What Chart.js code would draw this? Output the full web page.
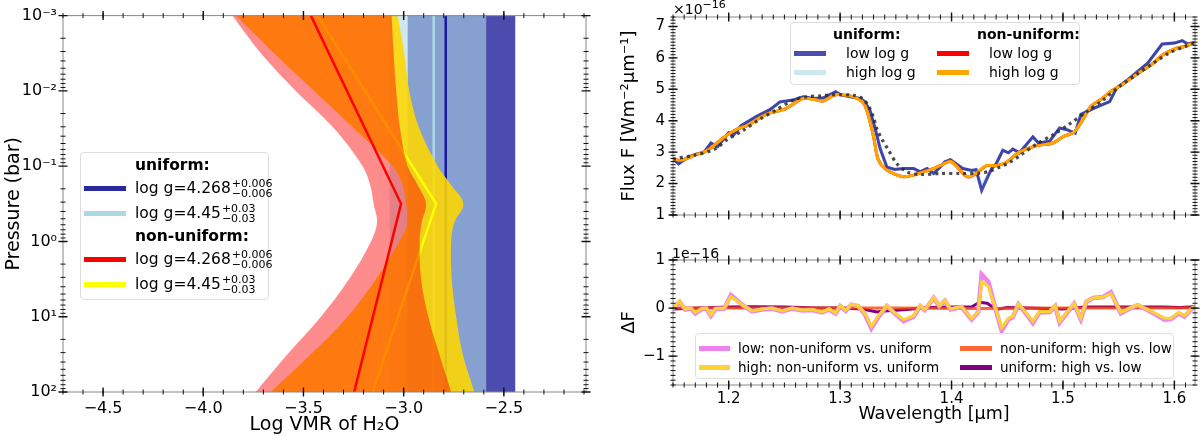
<!DOCTYPE html>
<html lang="en">
<head>
<meta charset="UTF-8" />
<title>H2O profiles and spectra</title>
<script src="https://cdn.jsdelivr.net/npm/chart.js@4.4.1/dist/chart.umd.min.js"></script>
<style>
  body { margin: 0; background: #fff; font-family: 'DejaVu Sans', sans-serif; }
  #wrap { position: relative; width: 1200px; height: 436px; overflow: hidden; }
  canvas { position: absolute; }
  .box { position: absolute; background: rgba(255,255,255,0.85); border: 1px solid #ddd; border-radius: 4px; }
  .row { position: absolute; left: 0; right: 0; height: 24px; line-height: 24px; white-space: nowrap; }
  .sw { position: absolute; height: 5px; }
  .txt { position: absolute; top: 0; color: #000; }
  .hd { font-weight: bold; }
  .ss { display: inline-block; vertical-align: middle; font-size: 11px; line-height: 10px; margin-left: 1px; }
  .ss span { display: block; }
  .off { position: absolute; font-size: 14px; color: #000; }
</style>
</head>
<body>
<div id="wrap">
  <canvas id="profile" width="600" height="436" style="left:0;top:0"></canvas>
  <canvas id="flux" width="600" height="232" style="left:600px;top:0"></canvas>
  <canvas id="resid" width="600" height="204" style="left:600px;top:232px"></canvas>

  <div class="box" style="left:80px;top:152px;width:187px;height:146px;font-size:15.5px">
    <div class="row" style="top:0"><span class="txt hd" style="left:54px">uniform:</span></div>
    <div class="row" style="top:23px"><span class="sw" style="left:3px;top:10px;width:42px;background:rgb(40,40,160)"></span><span class="txt" style="left:54px">log g=4.268<span class="ss"><span>+0.006</span><span>−0.006</span></span></span></div>
    <div class="row" style="top:48px"><span class="sw" style="left:3px;top:10px;width:42px;background:lightblue"></span><span class="txt" style="left:54px">log g=4.45<span class="ss"><span>+0.03</span><span>−0.03</span></span></span></div>
    <div class="row" style="top:71px"><span class="txt hd" style="left:54px">non-uniform:</span></div>
    <div class="row" style="top:94px"><span class="sw" style="left:3px;top:10px;width:42px;background:red"></span><span class="txt" style="left:54px">log g=4.268<span class="ss"><span>+0.006</span><span>−0.006</span></span></span></div>
    <div class="row" style="top:119px"><span class="sw" style="left:3px;top:10px;width:42px;background:yellow"></span><span class="txt" style="left:54px">log g=4.45<span class="ss"><span>+0.03</span><span>−0.03</span></span></span></div>
  </div>

  <div class="box" style="left:790px;top:22px;width:288px;height:61px;font-size:14px">
    <div class="row" style="top:-1px"><span class="txt hd" style="left:42px">uniform:</span><span class="txt hd" style="left:186px">non-uniform:</span></div>
    <div class="row" style="top:18px"><span class="sw" style="left:3px;top:10px;width:32px;background:rgb(77,77,174)"></span><span class="txt" style="left:55px">low log g</span><span class="sw" style="left:146px;top:10px;width:32px;background:red"></span><span class="txt" style="left:198px">low log g</span></div>
    <div class="row" style="top:37px"><span class="sw" style="left:3px;top:10px;width:32px;background:rgb(206,232,240)"></span><span class="txt" style="left:55px">high log g</span><span class="sw" style="left:146px;top:10px;width:32px;background:orange"></span><span class="txt" style="left:198px">high log g</span></div>
  </div>

  <div class="box" style="left:695px;top:333px;width:477px;height:44px;font-size:13.5px">
    <div class="row" style="top:2px"><span class="sw" style="left:3px;top:10px;width:31px;background:violet"></span><span class="txt" style="left:42px">low: non-uniform vs. uniform</span><span class="sw" style="left:264px;top:10px;width:32px;background:rgba(255,69,0,0.8)"></span><span class="txt" style="left:304px">non-uniform: high vs. low</span></div>
    <div class="row" style="top:21px"><span class="sw" style="left:3px;top:10px;width:31px;background:#fdd235"></span><span class="txt" style="left:42px">high: non-uniform vs. uniform</span><span class="sw" style="left:264px;top:10px;width:32px;background:purple"></span><span class="txt" style="left:304px">uniform: high vs. low</span></div>
  </div>

  <div class="off" style="left:673px;top:-2px">×10<sup style="font-size:11px">−16</sup></div>
  <div class="off" style="left:672px;top:245px">1e−16</div>
</div>

<script>
  // ---------- left panel: H2O abundance profiles ----------
  const vmrTicks = [-4.5, -4.0, -3.5, -3.0, -2.5];
  const pressureTicks = [1e-3, 1e-2, 1e-1, 1, 10, 100];
  const pressureTickLabels = ['10⁻³', '10⁻²', '10⁻¹', '10⁰', '10¹', '10²'];

  // uniform retrievals: constant VMR, band edges and median
  const uniformPressure = [1e-3, 1e2];
  const uniLowBand = [-2.98, -2.443];
  const uniLowMedian = -2.79;
  const uniHighBand = [-3.07, -2.588];
  const uniHighMedian = -2.85;

  // non-uniform retrievals: band edges at these pressures (bar)
  const bandPressure = [0.001, 0.00316, 0.01, 0.0316, 0.1, 0.178, 0.316, 0.562, 1, 3.16, 10, 31.6, 100];
  const lowBandLeft = [-3.855, -3.713, -3.538, -3.347, -3.205, -3.167, -3.150, -3.133, -3.163, -3.272, -3.413, -3.580, -3.738];
  const lowBandRight = [-3.060, -3.050, -3.037, -3.018, -2.980, -2.930, -2.888, -2.910, -2.920, -2.913, -2.877, -2.822, -2.763];
  const highBandLeft = [-3.838, -3.647, -3.447, -3.247, -3.055, -3.005, -2.988, -2.980, -3.022, -3.138, -3.280, -3.463, -3.663];
  const highBandRight = [-3.030, -2.997, -2.972, -2.922, -2.830, -2.763, -2.702, -2.747, -2.763, -2.760, -2.738, -2.705, -2.647];

  // non-uniform medians (piecewise in log P)
  const profilePressure = [0.001, 0.316, 100];
  const lowProfile = [-3.463, -3.013, -3.247];
  const highProfile = [-3.430, -2.838, -3.155];

  // ---------- right top: spectra (flux in 1e-16 W m-2 um-1) ----------
  const obsWave = [1.150, 1.169, 1.187, 1.199, 1.213, 1.228, 1.243, 1.258, 1.270, 1.282, 1.294, 1.300, 1.312, 1.319, 1.325, 1.330, 1.333, 1.338, 1.343, 1.351, 1.360, 1.372, 1.390, 1.407, 1.425, 1.434, 1.443, 1.452, 1.461, 1.476, 1.491, 1.506, 1.521, 1.536, 1.551, 1.566, 1.581, 1.595, 1.610, 1.619];
  const obsFlux = [2.78, 2.90, 3.09, 3.41, 3.69, 4.05, 4.35, 4.66, 4.76, 4.79, 4.83, 4.83, 4.81, 4.73, 4.50, 4.10, 3.74, 3.38, 3.09, 2.63, 2.37, 2.29, 2.32, 2.32, 2.33, 2.39, 2.52, 2.67, 2.88, 3.25, 3.55, 3.90, 4.28, 4.66, 5.10, 5.47, 5.83, 6.15, 6.37, 6.50];

  const uniWave = [1.150, 1.155, 1.163, 1.170, 1.178, 1.184, 1.190, 1.196, 1.200, 1.204, 1.211, 1.225, 1.237, 1.246, 1.258, 1.267, 1.276, 1.285, 1.296, 1.300, 1.309, 1.318, 1.322, 1.327, 1.331, 1.336, 1.342, 1.349, 1.357, 1.366, 1.372, 1.378, 1.384, 1.389, 1.394, 1.399, 1.404, 1.410, 1.418, 1.422, 1.427, 1.436, 1.440, 1.446, 1.451, 1.455, 1.461, 1.473, 1.478, 1.488, 1.497, 1.504, 1.511, 1.516, 1.528, 1.542, 1.548, 1.557, 1.566, 1.576, 1.589, 1.600, 1.607, 1.612, 1.618];
  const uniLowFlux = [2.78, 2.63, 2.83, 2.93, 3.00, 3.29, 3.17, 3.45, 3.62, 3.53, 3.84, 4.14, 4.35, 4.60, 4.66, 4.76, 4.71, 4.73, 4.92, 4.83, 4.76, 4.71, 4.61, 4.31, 3.80, 3.10, 2.52, 2.45, 2.48, 2.48, 2.37, 2.48, 2.32, 2.50, 2.69, 2.76, 2.63, 2.48, 2.42, 2.45, 1.78, 2.48, 2.63, 3.06, 2.98, 3.10, 2.98, 3.49, 3.29, 3.35, 3.77, 3.71, 3.60, 4.20, 4.40, 4.61, 5.04, 5.27, 5.54, 5.83, 6.44, 6.47, 6.55, 6.44, 6.49];
  const uniHighFlux = [2.78, 2.64, 2.83, 2.93, 3.00, 3.28, 3.18, 3.45, 3.61, 3.54, 3.83, 4.14, 4.35, 4.59, 4.66, 4.76, 4.71, 4.73, 4.91, 4.83, 4.76, 4.71, 4.62, 4.33, 3.85, 3.15, 2.55, 2.46, 2.47, 2.47, 2.38, 2.48, 2.34, 2.50, 2.68, 2.75, 2.63, 2.49, 2.43, 2.40, 1.95, 2.45, 2.62, 3.04, 2.98, 3.09, 2.98, 3.47, 3.30, 3.35, 3.75, 3.71, 3.61, 4.18, 4.40, 4.62, 5.02, 5.27, 5.54, 5.83, 6.42, 6.47, 6.53, 6.45, 6.49];

  const nonUniWave = [1.150, 1.157, 1.169, 1.181, 1.190, 1.199, 1.208, 1.217, 1.228, 1.237, 1.249, 1.258, 1.267, 1.276, 1.285, 1.294, 1.300, 1.312, 1.321, 1.325, 1.330, 1.334, 1.340, 1.348, 1.357, 1.366, 1.375, 1.384, 1.393, 1.399, 1.404, 1.412, 1.416, 1.422, 1.431, 1.440, 1.449, 1.461, 1.476, 1.491, 1.500, 1.510, 1.518, 1.525, 1.535, 1.542, 1.554, 1.566, 1.581, 1.589, 1.601, 1.610, 1.618];
  const nonUniLowFlux = [2.78, 2.74, 2.90, 3.06, 3.31, 3.55, 3.74, 3.85, 4.10, 4.25, 4.35, 4.53, 4.71, 4.68, 4.63, 4.81, 4.83, 4.76, 4.56, 4.20, 3.49, 2.78, 2.48, 2.32, 2.22, 2.27, 2.37, 2.48, 2.63, 2.70, 2.57, 2.26, 2.21, 2.31, 2.56, 2.57, 2.67, 3.00, 3.20, 3.29, 3.49, 3.64, 4.05, 4.45, 4.70, 4.91, 5.17, 5.47, 5.83, 6.08, 6.29, 6.37, 6.49];
  const nonUniHighFlux = [2.78, 2.74, 2.90, 3.06, 3.31, 3.55, 3.74, 3.85, 4.10, 4.25, 4.35, 4.53, 4.71, 4.68, 4.63, 4.81, 4.83, 4.76, 4.56, 4.20, 3.49, 2.78, 2.48, 2.32, 2.22, 2.27, 2.37, 2.48, 2.63, 2.70, 2.57, 2.27, 2.22, 2.32, 2.57, 2.57, 2.67, 3.00, 3.20, 3.29, 3.49, 3.64, 4.05, 4.45, 4.70, 4.91, 5.17, 5.47, 5.83, 6.08, 6.29, 6.37, 6.49];

  // ---------- right bottom: flux differences (1e-16) ----------
  const diffWave = [1.149, 1.156, 1.161, 1.166, 1.170, 1.176, 1.180, 1.184, 1.188, 1.196, 1.202, 1.212, 1.221, 1.230, 1.239, 1.248, 1.257, 1.266, 1.275, 1.284, 1.290, 1.296, 1.300, 1.305, 1.310, 1.316, 1.322, 1.328, 1.334, 1.342, 1.349, 1.357, 1.366, 1.372, 1.376, 1.384, 1.389, 1.394, 1.399, 1.409, 1.418, 1.424, 1.427, 1.433, 1.439, 1.445, 1.451, 1.455, 1.460, 1.467, 1.473, 1.479, 1.488, 1.493, 1.497, 1.510, 1.516, 1.521, 1.527, 1.536, 1.543, 1.552, 1.560, 1.567, 1.575, 1.582, 1.591, 1.597, 1.604, 1.609, 1.616, 1.621];
  const highDiff = [-0.02, 0.14, -0.02, 0.00, -0.09, -0.01, 0.00, -0.14, -0.01, 0.00, 0.24, 0.07, -0.06, -0.02, 0.00, -0.06, 0.00, -0.04, -0.03, -0.08, -0.02, -0.10, 0.05, -0.05, 0.08, 0.05, -0.10, -0.38, -0.17, 0.05, -0.10, -0.24, -0.16, 0.05, -0.03, 0.22, 0.05, 0.16, -0.02, 0.03, -0.22, -0.07, 0.55, 0.45, 0.03, -0.41, -0.21, -0.17, 0.09, -0.10, -0.28, -0.07, -0.07, 0.05, -0.28, 0.10, -0.21, 0.14, 0.21, 0.23, 0.30, -0.09, 0.00, 0.07, -0.02, -0.10, -0.21, -0.21, -0.09, -0.16, 0.00, 0.03];
  const lowDiff = [-0.03, 0.13, -0.03, -0.01, -0.11, -0.02, -0.01, -0.16, -0.02, -0.01, 0.27, 0.07, -0.07, -0.03, -0.01, -0.07, -0.01, -0.05, -0.04, -0.09, -0.03, -0.11, 0.04, -0.06, 0.07, 0.04, -0.12, -0.42, -0.20, 0.04, -0.11, -0.27, -0.18, 0.04, -0.04, 0.21, 0.04, 0.15, -0.03, 0.02, -0.24, -0.08, 0.70, 0.55, 0.02, -0.47, -0.24, -0.19, 0.08, -0.12, -0.31, -0.09, -0.08, 0.04, -0.30, 0.09, -0.23, 0.13, 0.21, 0.23, 0.33, -0.11, -0.01, 0.06, -0.03, -0.12, -0.24, -0.23, -0.11, -0.18, -0.01, 0.02];
  const uniDiffWave = [1.150, 1.175, 1.200, 1.220, 1.250, 1.280, 1.300, 1.320, 1.333, 1.340, 1.360, 1.380, 1.400, 1.418, 1.425, 1.432, 1.440, 1.450, 1.470, 1.500, 1.520, 1.550, 1.570, 1.590, 1.605, 1.620];
  const uniDiff = [-0.02, 0.00, 0.02, 0.03, 0.02, 0.00, 0.00, -0.02, -0.08, -0.06, -0.03, 0.01, 0.02, 0.02, 0.12, 0.10, -0.03, 0.01, 0.00, -0.02, 0.02, 0.02, 0.02, 0.02, 0.01, 0.03];
  const nonUniDiffWave = [1.150, 1.250, 1.350, 1.425, 1.500, 1.620];
  const nonUniDiff = [0.00, 0.00, 0.00, -0.01, 0.00, 0.00];

  const fluxTicks = [1, 2, 3, 4, 5, 6, 7];
  const diffTicks = [-1, 0, 1];
  const waveTicks = [1.2, 1.3, 1.4, 1.5, 1.6];

  // ---------- helpers ----------
  Chart.defaults.font.family = "'DejaVu Sans', sans-serif";
  Chart.defaults.color = '#000';

  const pts = (xs, ys) => xs.map((x, i) => ({ x: x, y: ys[i] }));
  const vert = (x, ps) => ps.map(p => ({ x: x, y: p }));
  const minus = s => String(s).replace('-', '−');
  const steps = (a, b, d) => { const out = []; for (let v = a; v <= b + 1e-9; v += d) out.push(+v.toFixed(4)); return out; };
  const logMinor = () => { const out = []; for (let e = -3; e < 2; e++) for (let k = 2; k < 10; k++) out.push(k * Math.pow(10, e)); return out; };

  function frameTicks(xMajor, xMinor, yMajor, yMinor) {
    return {
      id: 'frameTicks',
      afterDraw(chart) {
        const { ctx, chartArea: a } = chart;
        ctx.save();
        ctx.strokeStyle = '#888';
        ctx.lineWidth = 1;
        ctx.strokeRect(a.left, a.top, a.right - a.left, a.bottom - a.top);
        ctx.strokeStyle = '#111';
        const mark = (scale, values, len, w) => {
          ctx.lineWidth = w;
          ctx.beginPath();
          values.forEach(v => {
            const p = scale.getPixelForValue(v);
            if (scale.isHorizontal()) {
              if (p < a.left - 1 || p > a.right + 1) return;
              ctx.moveTo(p, a.top - len); ctx.lineTo(p, a.top + len);
              ctx.moveTo(p, a.bottom - len); ctx.lineTo(p, a.bottom + len);
            } else {
              if (p < a.top - 1 || p > a.bottom + 1) return;
              ctx.moveTo(a.left - len, p); ctx.lineTo(a.left + len, p);
              ctx.moveTo(a.right - len, p); ctx.lineTo(a.right + len, p);
            }
          });
          ctx.stroke();
        };
        mark(chart.scales.x, xMinor, 2.5, 1);
        mark(chart.scales.x, xMajor, 4.5, 1.4);
        mark(chart.scales.y, yMinor, 2.5, 1);
        mark(chart.scales.y, yMajor, 4.5, 1.4);
        ctx.restore();
      }
    };
  }

  const edge = (data, order) => ({ data, order, borderColor: 'transparent', borderWidth: 0, fill: false, tension: 0.35 });
  const noGrid = { display: false, drawTicks: false };

  // ---------- left chart ----------
  new Chart(document.getElementById('profile'), {
    type: 'line',
    data: {
      datasets: [
        { data: vert(uniLowBand[0], uniformPressure), order: 20, borderColor: 'transparent', borderWidth: 0, fill: 1, backgroundColor: 'rgba(0,0,139,0.7)' },
        edge(vert(uniLowBand[1], uniformPressure), 20),
        { data: vert(uniHighBand[0], uniformPressure), order: 19, borderColor: 'transparent', borderWidth: 0, fill: 3, backgroundColor: 'rgba(173,216,230,0.6)' },
        edge(vert(uniHighBand[1], uniformPressure), 19),
        { data: vert(uniLowMedian, uniformPressure), order: 18, borderColor: 'rgb(25,25,160)', borderWidth: 2.5, fill: false },
        { data: vert(uniHighMedian, uniformPressure), order: 17, borderColor: 'lightblue', borderWidth: 2.5, fill: false },
        { data: pts(highBandLeft, bandPressure), order: 16, borderColor: 'transparent', borderWidth: 0, tension: 0.35, fill: 7, backgroundColor: 'rgba(255,215,0,0.88)' },
        edge(pts(highBandRight, bandPressure), 16),
        { data: pts(highProfile, profilePressure), order: 15, borderColor: 'yellow', borderWidth: 2.5, fill: false },
        { data: pts(lowBandLeft, bandPressure), order: 14, borderColor: 'transparent', borderWidth: 0, tension: 0.35, fill: 10, backgroundColor: 'rgba(255,0,0,0.45)' },
        edge(pts(lowBandRight, bandPressure), 14),
        { data: pts(lowProfile, profilePressure), order: 13, borderColor: 'red', borderWidth: 2.5, fill: false }
      ]
    },
    options: {
      indexAxis: 'y',
      responsive: false,
      animation: false,
      layout: { padding: { left: 0, right: 14, top: 15, bottom: 0 } },
      elements: { point: { radius: 0 } },
      plugins: { legend: { display: false }, tooltip: { enabled: false } },
      scales: {
        x: {
          type: 'linear', min: -4.70, max: -2.09,
          afterBuildTicks: s => { s.ticks = vmrTicks.map(v => ({ value: v })); },
          afterFit: s => { s.height = 44; },
          grid: noGrid, border: { display: false },
          ticks: { font: { size: 16 }, padding: 7, maxRotation: 0, autoSkip: false, callback: v => minus(v.toFixed(1)) },
          title: { display: true, text: 'Log VMR of H₂O', font: { size: 19 }, padding: { top: 0, bottom: 0 } }
        },
        y: {
          type: 'logarithmic', reverse: true, min: 1e-3, max: 1e2,
          afterBuildTicks: s => { s.ticks = pressureTicks.map(v => ({ value: v })); },
          afterFit: s => { s.width = 63; },
          grid: noGrid, border: { display: false },
          ticks: { font: { size: 16 }, padding: 6, autoSkip: false, callback: (v, i) => pressureTickLabels[i] },
          title: { display: true, text: 'Pressure (bar)', font: { size: 19 }, padding: { top: 3, bottom: 0 } }
        }
      }
    },
    plugins: [frameTicks(vmrTicks, steps(-4.7, -2.1, 0.1), pressureTicks, logMinor())]
  });

  // ---------- right top chart ----------
  new Chart(document.getElementById('flux'), {
    type: 'line',
    data: {
      datasets: [
        { data: pts(uniWave, uniHighFlux), order: 6, borderColor: 'rgba(173,216,230,0.6)', borderWidth: 3, fill: false },
        { data: pts(uniWave, uniLowFlux), order: 5, borderColor: 'rgba(0,0,139,0.7)', borderWidth: 3, fill: false },
        { data: pts(nonUniWave, nonUniLowFlux), order: 4, borderColor: 'red', borderWidth: 3, fill: false, tension: 0.3 },
        { data: pts(nonUniWave, nonUniHighFlux), order: 3, borderColor: 'orange', borderWidth: 3, fill: false, tension: 0.3 },
        { data: pts(obsWave, obsFlux), order: 2, borderColor: 'rgba(45,45,45,0.85)', borderWidth: 3.2, borderDash: [3, 4], fill: false, tension: 0.3 }
      ]
    },
    options: {
      responsive: false,
      animation: false,
      layout: { padding: { left: 0, right: 5, top: 15, bottom: 0 } },
      elements: { point: { radius: 0 } },
      plugins: { legend: { display: false }, tooltip: { enabled: false } },
      scales: {
        x: {
          type: 'linear', min: 1.15, max: 1.6185,
          afterBuildTicks: s => { s.ticks = waveTicks.map(v => ({ value: v })); },
          afterFit: s => { s.height = 10; },
          grid: noGrid, border: { display: false },
          ticks: { display: false }
        },
        y: {
          type: 'linear', min: 1, max: 7.3,
          afterBuildTicks: s => { s.ticks = fluxTicks.map(v => ({ value: v })); },
          afterFit: s => { s.width = 73; },
          grid: noGrid, border: { display: false },
          ticks: { font: { size: 15 }, padding: 8, autoSkip: false, callback: v => String(v) },
          title: { display: true, text: 'Flux F [Wm⁻²μm⁻¹]', font: { size: 18 }, padding: { top: 19, bottom: 0 } }
        }
      }
    },
    plugins: [frameTicks(waveTicks, steps(1.15, 1.62, 0.01), fluxTicks, steps(1, 7.3, 0.1))]
  });

  // ---------- right bottom chart ----------
  new Chart(document.getElementById('resid'), {
    type: 'line',
    data: {
      datasets: [
        { data: pts(uniDiffWave, uniDiff), order: 5, borderColor: 'purple', borderWidth: 3, fill: false },
        { data: pts(nonUniDiffWave, nonUniDiff), order: 4, borderColor: 'rgba(255,69,0,0.8)', borderWidth: 3, fill: false },
        { data: pts(diffWave, lowDiff), order: 3, borderColor: 'violet', borderWidth: 4.5, fill: false },
        { data: pts(diffWave, highDiff), order: 2, borderColor: '#fdd235', borderWidth: 3, fill: false }
      ]
    },
    options: {
      responsive: false,
      animation: false,
      layout: { padding: { left: 0, right: 5, top: 28, bottom: 0 } },
      elements: { point: { radius: 0 } },
      plugins: { legend: { display: false }, tooltip: { enabled: false } },
      scales: {
        x: {
          type: 'linear', min: 1.15, max: 1.6185,
          afterBuildTicks: s => { s.ticks = waveTicks.map(v => ({ value: v })); },
          afterFit: s => { s.height = 51; },
          grid: noGrid, border: { display: false },
          ticks: { font: { size: 15 }, padding: 5, maxRotation: 0, autoSkip: false, callback: v => v.toFixed(1) },
          title: { display: true, text: 'Wavelength [μm]', font: { size: 17.5 }, padding: { top: 0, bottom: 11 } }
        },
        y: {
          type: 'linear', min: -1.6, max: 1.0,
          afterBuildTicks: s => { s.ticks = diffTicks.map(v => ({ value: v })); },
          afterFit: s => { s.width = 73; },
          grid: noGrid, border: { display: false },
          ticks: { font: { size: 15 }, padding: 8, autoSkip: false, callback: v => minus(v) },
          title: { display: true, text: 'ΔF', font: { size: 18 }, padding: { top: 19, bottom: 0 } }
        }
      }
    },
    plugins: [frameTicks(waveTicks, steps(1.15, 1.62, 0.01), diffTicks, steps(-1.6, 1.0, 0.1))]
  });
</script>
</body>
</html>
